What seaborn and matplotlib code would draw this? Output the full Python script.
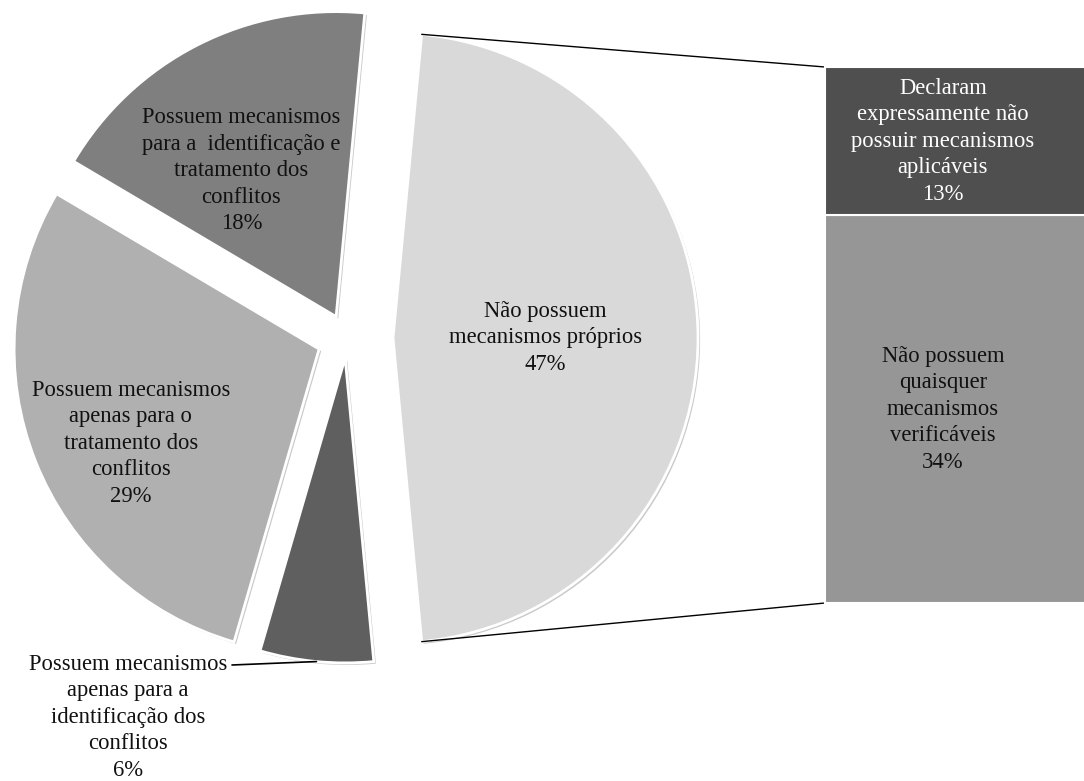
import numpy as np
import matplotlib
matplotlib.use("Agg")
import matplotlib.pyplot as plt
import matplotlib.patheffects as pe
import seaborn as sns

# ---- data ----
pie_labels = [
    "Não possuem\nmecanismos próprios",
    "Possuem mecanismos\npara a  identificação e\ntratamento dos\nconflitos",
    "Possuem mecanismos\napenas para o\ntratamento dos\nconflitos",
    "Possuem mecanismos\napenas para a\nidentificação dos\nconflitos",
]
pie_values = [47, 18, 29, 6]

bar_labels = [
    "Não possuem\nquaisquer\nmecanismos\nverificáveis",
    "Declaram\nexpressamente não\npossuir mecanismos\naplicáveis",
]
bar_values = [34, 13]

# ---- style ----
pie_colors = ["#d9d9d9", "#7f7f7f", "#b0b0b0", "#5f5f5f"]
bar_colors = ["#969696", "#4f4f4f"]
bar_text_colors = ["#111111", "white"]

sns.set_theme(style="white")
plt.rcParams["font.family"] = ["Liberation Serif", "DejaVu Serif"]

W, H = 1084, 781
fig = plt.figure(figsize=(W / 100, H / 100), dpi=100)
ax = fig.add_axes([0, 0, 1, 1])

cx, cy, R = 347, 443, 305
explode = [46, 24, 30, 20]
shadow = [pe.SimplePatchShadow(offset=(1.5, -1.5), shadow_rgbFace="0.4", alpha=0.35), pe.Normal()]

wedges, _ = ax.pie(
    pie_values, center=(cx, cy), radius=R, startangle=-pie_values[0] / 100 * 180,
    counterclock=True, explode=explode, colors=pie_colors,
    wedgeprops=dict(edgecolor="white", linewidth=2), frame=False,
)
for w in wedges:
    w.set_path_effects(shadow)

fs = 16.3
lsp = 1.34
pct = [f"{v}%" for v in pie_values]
label_r = [0.5, 0.57, 0.69]
label_dt = [0, 6, 5]
for i in range(3):
    w = wedges[i]
    mid = np.deg2rad((w.theta1 + w.theta2) / 2 + label_dt[i])
    x = w.center[0] + label_r[i] * w.r * np.cos(mid)
    y = w.center[1] + label_r[i] * w.r * np.sin(mid)
    ax.text(x, y, pie_labels[i] + "\n" + pct[i], ha="center", va="center",
            fontsize=fs, color="#111111", linespacing=lsp)

# small slice label outside with leader line
w = wedges[3]
mid = np.deg2rad((w.theta1 + w.theta2) / 2)
ex = w.center[0] + w.r * np.cos(mid)
ey = w.center[1] + w.r * np.sin(mid)
tx, ty = 128, 781 - 665
ax.plot([232, ex], [ty, ey], color="black", lw=1.2, zorder=1)
ax.text(tx, ty + 11, pie_labels[3] + "\n" + pct[3], ha="center", va="top",
        fontsize=fs, color="#111111", linespacing=lsp)

# ---- bar ----
bar_left, bar_w = 825, 270
bar_bottom = 178
scale = 536 / sum(bar_values)
bottom = bar_bottom
seg_centers = []
for v, c in zip(bar_values, bar_colors):
    ax.bar(bar_left, v * scale, bottom=bottom, width=bar_w, align="edge",
           color=c, edgecolor="white", linewidth=1.5, zorder=2)
    seg_centers.append(bottom + v * scale / 2)
    bottom += v * scale
bar_top = bottom
for lab, v, yc, tc in zip(bar_labels, bar_values, seg_centers, bar_text_colors):
    ax.text(bar_left + 118, yc, lab + f"\n{v}%", ha="center", va="center",
            fontsize=fs, color=tc, linespacing=lsp, zorder=3)

# ---- connector lines ----
w0 = wedges[0]
t2 = np.deg2rad(w0.theta2)
t1 = np.deg2rad(w0.theta1)
top_pt = (w0.center[0] + w0.r * np.cos(t2), w0.center[1] + w0.r * np.sin(t2))
bot_pt = (w0.center[0] + w0.r * np.cos(t1), w0.center[1] + w0.r * np.sin(t1))
ax.plot([top_pt[0], bar_left], [top_pt[1], bar_top], color="black", lw=1, zorder=1)
ax.plot([bot_pt[0], bar_left], [bot_pt[1], bar_bottom], color="black", lw=1, zorder=1)

ax.set_xlim(0, W)
ax.set_ylim(0, H)
ax.set_aspect("equal")
ax.set_position([0, 0, 1, 1])
ax.axis("off")

fig.savefig("out.png", dpi=100, facecolor="white")
